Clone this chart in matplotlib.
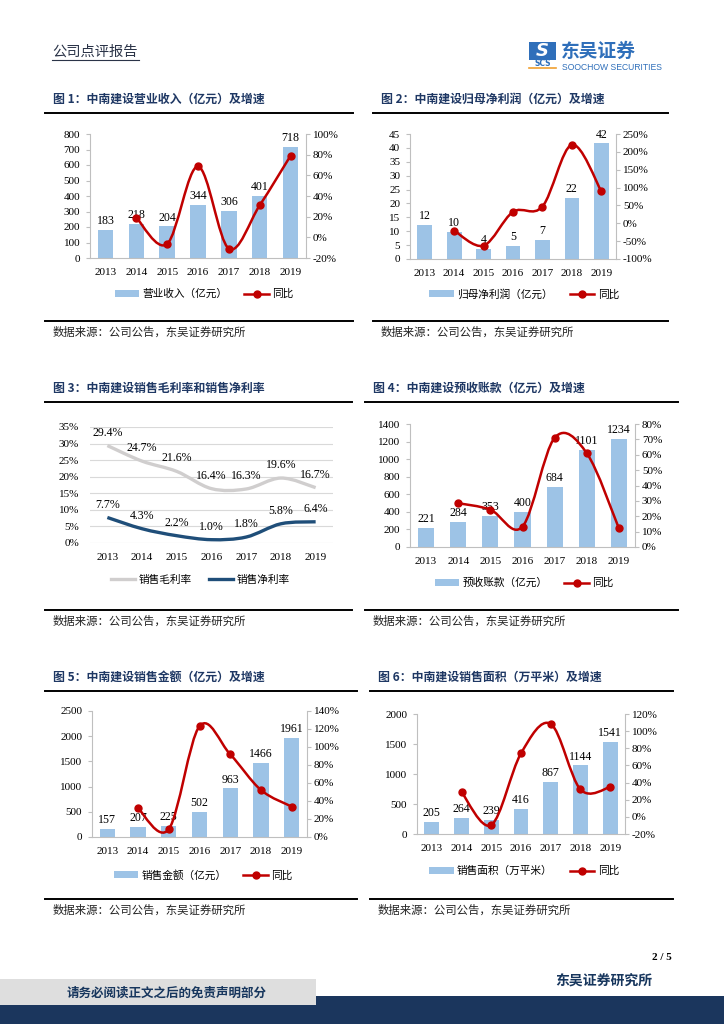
import numpy as np
import matplotlib
matplotlib.use('Agg')
import matplotlib.pyplot as plt
from matplotlib.path import Path
from matplotlib.patches import PathPatch, Rectangle
from matplotlib.lines import Line2D
from matplotlib.font_manager import FontProperties

W, H = 724, 1024

years = ['2013', '2014', '2015', '2016', '2017', '2018', '2019']

# 图1 营业收入（亿元）及同比
rev = [183, 218, 204, 344, 306, 401, 718]
rev_yoy = [19.1, -6.4, 68.6, -11.0, 31.0, 79.0]
# 图2 归母净利润（亿元）及同比
profit = [12.2, 9.7, 3.6, 4.7, 6.9, 22.0, 41.6]
profit_yoy = [-20.5, -62.5, 32.0, 47.0, 220.0, 90.0]
# 图3 销售毛利率 / 销售净利率
gross_margin = [29.4, 24.7, 21.6, 16.4, 16.3, 19.6, 16.7]
net_margin = [7.7, 4.3, 2.2, 1.0, 1.8, 5.8, 6.4]
# 图4 预收账款（亿元）及同比
adv = [221, 284, 353, 400, 684, 1101, 1234]
adv_yoy = [28.5, 24.3, 13.3, 71.0, 61.0, 12.1]
# 图5 销售金额（亿元）及同比
sales = [157, 207, 225, 502, 963, 1466, 1961]
sales_yoy = [31.8, 8.7, 123.1, 91.8, 52.2, 33.8]
# 图6 销售面积（万平米）及同比
area = [205, 264, 239, 416, 867, 1144, 1541]
area_yoy = [28.8, -9.5, 74.1, 108.4, 32.0, 34.7]

CJK = ['Noto Sans CJK SC', 'DejaVu Sans']
SERIF = ['Liberation Serif', 'DejaVu Serif']
NAVY = '#1F3864'
DARKNAVY = '#17365D'
BAR = '#9DC3E6'
RED = '#C00000'
AXC = '#BFBFBF'

fs_tick = 8.0
fs_lab = 8.6
fs_leg = 7.7

fig = plt.figure(figsize=(7.24, 10.24), dpi=100)


def fx(x):
    return x / W


def fy(y):
    return 1 - y / H


def box(x0, y0, x1, y1):
    return fig.add_axes([fx(x0), fy(y1), (x1 - x0) / W, (y1 - y0) / H])


def hline(x0, x1, y, lw=1.4, c='black'):
    fig.add_artist(Line2D([fx(x0), fx(x1)], [fy(y), fy(y)], color=c, lw=lw))


def ftext(x, y, s, **kw):
    fig.text(fx(x), fy(y), s, **kw)


def smooth(x, y, t=1 / 6.):
    # excel-like smoothed line: catmull-rom -> bezier
    p = np.column_stack([np.asarray(x, float), np.asarray(y, float)])
    n = len(p)
    verts = [tuple(p[0])]
    codes = [Path.MOVETO]
    for i in range(n - 1):
        pm = p[max(i - 1, 0)]
        pp = p[min(i + 2, n - 1)]
        c1 = p[i] + (p[i + 1] - pm) * t
        c2 = p[i + 1] - (pp - p[i]) * t
        verts += [tuple(c1), tuple(c2), tuple(p[i + 1])]
        codes += [Path.CURVE4] * 3
    return Path(verts, codes)


def legend(cx, cy, handles, labels):
    fig.legend(handles, labels, loc='center', bbox_to_anchor=(fx(cx), fy(cy)),
               ncol=2, frameon=False, prop=FontProperties(family=CJK, size=fs_leg),
               handlelength=2.3, handleheight=0.6, handletextpad=0.3, columnspacing=1.6)


def block(tx, ty, title, lx0, lx1, src_y):
    ftext(tx, ty, title, family=CJK, fontsize=8.6, fontweight='bold', color=NAVY, va='center')
    hline(lx0, lx1, ty + 14)
    hline(lx0, lx1, src_y - 11)
    ftext(tx, src_y, '数据来源：公司公告，东吴证券研究所', family=CJK, fontsize=8.2,
          color='#222222', va='center')


def bar_line(rect, vals, yoy, ylim, ystep, rlim, rstep, name, leg_xy):
    ax = box(*rect)
    x = np.arange(len(years))
    ax.bar(x, vals, width=0.5, color=BAR, zorder=2)
    for xi, v in zip(x, vals):
        ax.annotate('{:.0f}'.format(v), (xi, v), xytext=(0, 2), textcoords='offset points',
                    ha='center', va='bottom', fontsize=fs_lab, family=SERIF, zorder=3)
    ax.set_xlim(-0.5, 6.5)
    ax.set_ylim(*ylim)
    ax.set_yticks(np.arange(ylim[0], ylim[1] + ystep / 2, ystep))
    ax.set_xticks(x)
    ax.set_xticklabels(years)
    for s in ['top', 'right']:
        ax.spines[s].set_visible(False)
    for s in ['left', 'bottom']:
        ax.spines[s].set_color(AXC)
    ax.tick_params(axis='y', length=3, color=AXC, labelsize=fs_tick, pad=4)
    ax.tick_params(axis='x', length=0, labelsize=fs_tick, pad=7)
    for lb in ax.get_xticklabels() + ax.get_yticklabels():
        lb.set_family(SERIF)

    ax2 = ax.twinx()
    xs = x[1:]
    ax2.add_patch(PathPatch(smooth(xs, yoy), fill=False, ec=RED, lw=1.8, zorder=4))
    ax2.plot(xs, yoy, 'o', color=RED, ms=5, zorder=5)
    ax2.set_ylim(*rlim)
    rt = np.arange(rlim[0], rlim[1] + rstep / 2, rstep)
    ax2.set_yticks(rt)
    ax2.set_yticklabels(['{:.0f}%'.format(v) for v in rt], family=SERIF)
    for s in ['top', 'left', 'bottom']:
        ax2.spines[s].set_visible(False)
    ax2.spines['right'].set_color(AXC)
    ax2.tick_params(axis='y', length=3, color=AXC, labelsize=fs_tick, pad=2)

    h1 = Rectangle((0, 0), 1, 1, fc=BAR, ec='none')
    h2 = Line2D([], [], color=RED, lw=1.8, marker='o', ms=5)
    legend(leg_xy[0], leg_xy[1], [h1, h2], [name, '同比'])


# ---- header ----
ftext(52, 52, '公司点评报告', family=CJK, fontsize=10.3, color='#2B3448', va='center')
hline(52, 139, 59.5, lw=0.8, c='#2B3448')
fig.add_artist(Rectangle((fx(529), fy(60)), 27 / W, 18 / H, transform=fig.transFigure,
                         fc='#2F6FBA', ec='none'))
ftext(542.5, 51, 'S', family=['DejaVu Sans'], fontsize=13, fontweight='bold', style='italic',
      color='white', ha='center', va='center')
ftext(542.5, 64, 'SCS', family=['DejaVu Sans'], fontsize=5.5, fontweight='bold',
      color='#2F6FBA', ha='center', va='center')
hline(529, 556, 67.5, lw=1.2, c='#F0A030')
ftext(561, 51.5, '东吴证券', family=CJK, fontsize=13.5, fontweight='bold', color='#2F6FBA',
      va='center')
ftext(562, 67, 'SOOCHOW SECURITIES', family=['Liberation Sans', 'DejaVu Sans'], fontsize=6.2,
      color='#2F6FBA', va='center')

# ---- 图1 ----
block(53, 99, '图 1：中南建设营业收入（亿元）及增速', 45, 353, 332)
bar_line((90, 134, 306, 258), rev, rev_yoy, (0, 800), 100, (-20, 100), 20,
         '营业收入（亿元）', (204, 294))

# ---- 图2 ----
block(381, 99, '图 2：中南建设归母净利润（亿元）及增速', 373, 668, 332)
bar_line((410, 134, 616, 259), profit, profit_yoy, (0, 45), 5, (-100, 250), 50,
         '归母净利润（亿元）', (524, 294))

# ---- 图3 ----
block(53, 388, '图 3：中南建设销售毛利率和销售净利率', 45, 352, 621)
ax = box(90, 427, 333, 543)
x = np.arange(len(years))
GRAY = '#D0CECE'
BLUE = '#1F4E79'
ax.add_patch(PathPatch(smooth(x, gross_margin), fill=False, ec=GRAY, lw=2.4, zorder=3))
ax.add_patch(PathPatch(smooth(x, net_margin), fill=False, ec=BLUE, lw=2.4, zorder=3))
for xi, g, n in zip(x, gross_margin, net_margin):
    ax.annotate('{:.1f}%'.format(g), (xi, g), xytext=(0, 5), textcoords='offset points',
                ha='center', va='bottom', fontsize=fs_lab, family=SERIF)
    ax.annotate('{:.1f}%'.format(n), (xi, n), xytext=(0, 5), textcoords='offset points',
                ha='center', va='bottom', fontsize=fs_lab, family=SERIF)
ax.set_xlim(-0.5, 6.5)
ax.set_ylim(0, 35)
yt = np.arange(0, 36, 5)
ax.set_yticks(yt)
ax.set_yticklabels(['{:.0f}%'.format(v) for v in yt], family=SERIF)
ax.set_xticks(x)
ax.set_xticklabels(years, family=SERIF)
ax.grid(axis='y', color='#D9D9D9', lw=0.8)
ax.set_axisbelow(True)
for s in ax.spines.values():
    s.set_visible(False)
ax.tick_params(axis='y', length=0, labelsize=fs_tick, pad=8)
ax.tick_params(axis='x', length=0, labelsize=fs_tick, pad=7)
legend(200, 580, [Line2D([], [], color=GRAY, lw=2.4), Line2D([], [], color=BLUE, lw=2.4)],
       ['销售毛利率', '销售净利率'])

# ---- 图4 ----
block(373, 388, '图 4：中南建设预收账款（亿元）及增速', 365, 678, 621)
bar_line((410, 424, 635, 547), adv, adv_yoy, (0, 1400), 200, (0, 80), 10,
         '预收账款（亿元）', (524, 583))

# ---- 图5 ----
block(53, 677, '图 5：中南建设销售金额（亿元）及增速', 45, 357, 910)
bar_line((92, 711, 307, 837), sales, sales_yoy, (0, 2500), 500, (0, 140), 20,
         '销售金额（亿元）', (203, 875))

# ---- 图6 ----
block(378, 677, '图 6：中南建设销售面积（万平米）及增速', 370, 673, 910)
bar_line((417, 714, 625, 834), area, area_yoy, (0, 2000), 500, (-20, 120), 20,
         '销售面积（万平米）', (524, 871))

# ---- footer ----
ftext(672, 957, '2 / 5', family=SERIF, fontsize=8, fontweight='bold', ha='right', va='center')
ftext(604, 982, '东吴证券研究所', family=CJK, fontsize=10, fontweight='bold', color=DARKNAVY,
      ha='center', va='center')
fig.add_artist(Rectangle((0, 0), 1, (1024 - 996) / H, transform=fig.transFigure,
                         fc='#1B365D', ec='none'))
fig.add_artist(Rectangle((0, fy(1005)), fx(316), (1005 - 979) / H, transform=fig.transFigure,
                         fc='#DEDEDE', ec='none'))
ftext(167, 993, '请务必阅读正文之后的免责声明部分', family=CJK, fontsize=9, fontweight='bold',
      color=DARKNAVY, ha='center', va='center')

fig.savefig('out.png', dpi=100)
